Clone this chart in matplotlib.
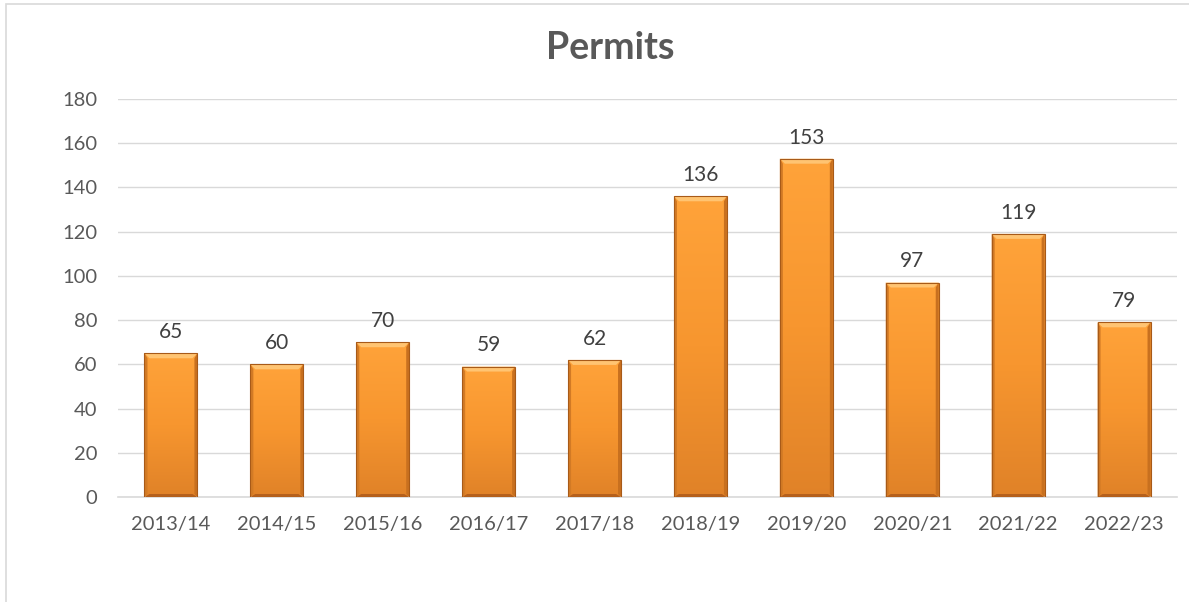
import numpy as np
import matplotlib
matplotlib.use("Agg")
import matplotlib.pyplot as plt
from matplotlib.patches import Rectangle, Polygon
from matplotlib.colors import LinearSegmentedColormap

categories = ["2013/14", "2014/15", "2015/16", "2016/17", "2017/18",
              "2018/19", "2019/20", "2020/21", "2021/22", "2022/23"]
permits = [65, 60, 70, 59, 62, 136, 153, 97, 119, 79]
yticks = list(range(0, 181, 20))
title = "Permits"

plt.rcParams['font.family'] = ['Lato', 'DejaVu Sans']
W, H = 1189, 602
fig = plt.figure(figsize=(W / 100, H / 100), dpi=100)
ax = fig.add_axes([118 / W, 1 - 497 / H, (1177 - 118) / W, (497 - 99) / H])

# figure frame (left/top visible)
fig.patches.append(Rectangle((6 / W, -0.05), 1.1, 1 - 4 / H + 0.05, transform=fig.transFigure,
                             fill=False, edgecolor="#D9D9D9", linewidth=1.2, zorder=0))

x = np.arange(len(categories))
bw = 0.5
ax.set_xlim(-0.5, len(categories) - 0.5)
ax.set_ylim(0, 180)
ax.set_yticks(yticks)
ax.set_xticks(x)
ax.set_xticklabels(categories)
ax.grid(axis="y", color="#D9D9D9", linewidth=1)
ax.set_axisbelow(True)
for s in ["top", "right", "left"]:
    ax.spines[s].set_visible(False)
ax.spines["bottom"].set_color("#D9D9D9")
ax.spines["bottom"].set_linewidth(1.2)
ax.tick_params(length=0, labelsize=14.5, colors="#595959")
ax.tick_params(axis="x", pad=14)
ax.tick_params(axis="y", pad=15)

bars = ax.bar(x, permits, width=bw, color="none", edgecolor="none", zorder=2)

cmap = LinearSegmentedColormap.from_list("o", ["#E08228", "#F7962F", "#FFA33A"])
grad = np.linspace(0, 1, 256).reshape(-1, 1)
px_x = (len(categories)) / (1177 - 118)  # data units per pixel (x)
px_y = 180 / (497 - 99)                   # data units per pixel (y)
bx, by = 5 * px_x, 5 * px_y
for b, v in zip(bars, permits):
    x0, w = b.get_x(), b.get_width()
    x1 = x0 + w
    im = ax.imshow(grad, extent=[x0, x1, 0, v], origin="lower", cmap=cmap,
                   aspect="auto", zorder=2)
    clip = Rectangle((x0, 0), w, v, transform=ax.transData)
    im.set_clip_path(clip)
    # bevels
    ax.add_patch(Polygon([(x0, v), (x1, v), (x1 - bx, v - by), (x0 + bx, v - by)],
                         closed=True, facecolor="#FFC472", edgecolor="none", zorder=3))
    ax.add_patch(Polygon([(x0, 0), (x1, 0), (x1 - bx, by * 0.6), (x0 + bx, by * 0.6)],
                         closed=True, facecolor="#B5601C", edgecolor="none", zorder=3))
    ax.add_patch(Polygon([(x0, 0), (x0, v), (x0 + bx * 0.6, v - by), (x0 + bx * 0.6, by * 0.6)],
                         closed=True, facecolor="#D27A25", edgecolor="none", zorder=3))
    ax.add_patch(Polygon([(x1, 0), (x1, v), (x1 - bx * 0.6, v - by), (x1 - bx * 0.6, by * 0.6)],
                         closed=True, facecolor="#C8701F", edgecolor="none", zorder=3))
    ax.add_patch(Rectangle((x0, 0), w, v, facecolor="none", edgecolor="#A85A18",
                           linewidth=0.8, zorder=4))
    ax.annotate(str(v), (b.get_x() + w / 2, v), xytext=(0, 8), textcoords="offset points",
                ha="center", va="bottom", fontsize=15, color="#404040")

ax.set_xlim(-0.5, len(categories) - 0.5)
ax.set_ylim(0, 180)
fig.text(610 / W, 1 - 48 / H, title, ha="center", va="center",
         fontsize=27, fontweight="bold", color="#595959")

fig.savefig("out.png", dpi=100)
